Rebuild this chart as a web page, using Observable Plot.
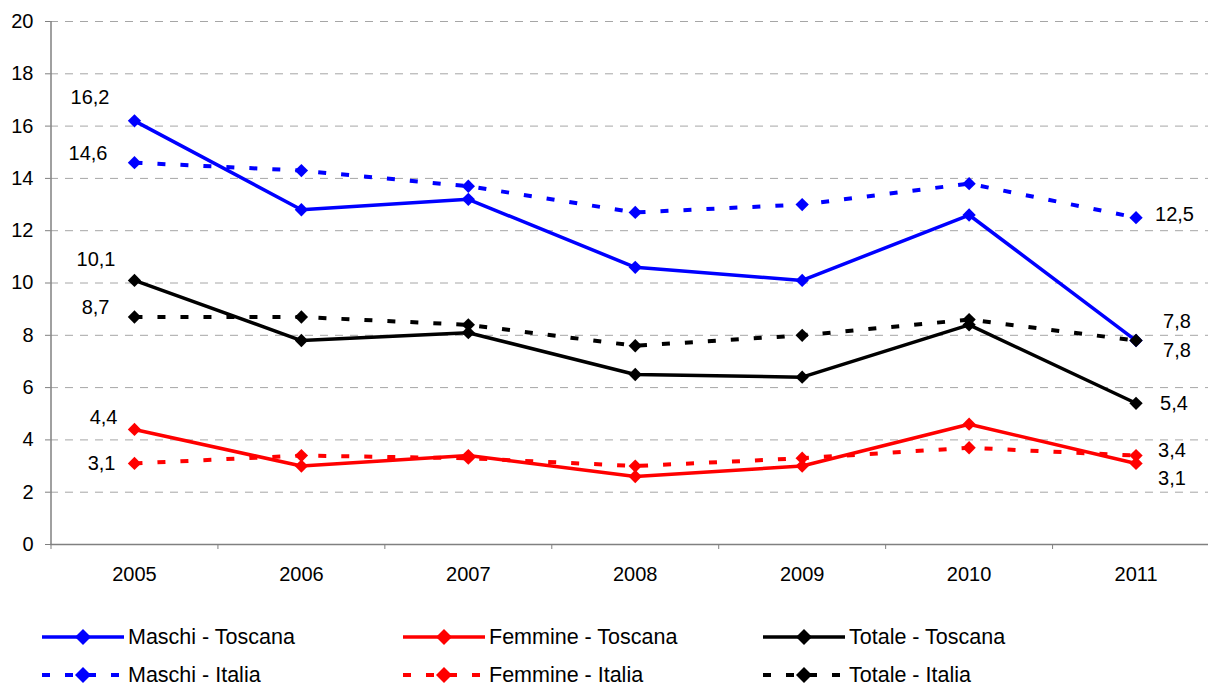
<!DOCTYPE html>
<html><head><meta charset="utf-8">
<script src="https://cdn.jsdelivr.net/npm/d3@7"></script>
<script src="https://cdn.jsdelivr.net/npm/@observablehq/plot@0.6"></script>
<style>
body{margin:0;background:#fff;font-family:"Liberation Sans",Arial,sans-serif;}
#wrap{position:relative;width:1208px;height:686px;overflow:hidden;background:#fff}
#legend{position:absolute;left:0;top:600px;width:1208px;height:86px}
.item{position:absolute;display:flex;align-items:center;font-size:21.5px;line-height:20px;height:20px;color:#000;white-space:nowrap}
.item svg{margin-right:4px}
</style></head><body><div id="wrap"><div id="chart"></div><div id="legend"></div></div>
<script>
const years = [2005, 2006, 2007, 2008, 2009, 2010, 2011];
const maschiToscana  = [16.2, 12.8, 13.2, 10.6, 10.1, 12.6, 7.8];
const femmineToscana = [4.4, 3.0, 3.4, 2.6, 3.0, 4.6, 3.1];
const totaleToscana  = [10.1, 7.8, 8.1, 6.5, 6.4, 8.4, 5.4];
const maschiItalia   = [14.6, 14.3, 13.7, 12.7, 13.0, 13.8, 12.5];
const femmineItalia  = [3.1, 3.4, 3.3, 3.0, 3.3, 3.7, 3.4];
const totaleItalia   = [8.7, 8.7, 8.4, 7.6, 8.0, 8.6, 7.8];
const yTicks = [0, 2, 4, 6, 8, 10, 12, 14, 16, 18, 20];
const seriesNames = ["Maschi - Toscana", "Femmine - Toscana", "Totale - Toscana", "Maschi - Italia", "Femmine - Italia", "Totale - Italia"];

const series = [
  {name: seriesNames[0], values: maschiToscana,  color: "#0000ff", dashed: false, left: {dx: -25, dy: -23}, right: {dx: 27, dy: 10}},
  {name: seriesNames[1], values: femmineToscana, color: "#ff0000", dashed: false, left: {dx: -17, dy: -12}, right: {dx: 22, dy: 15}},
  {name: seriesNames[2], values: totaleToscana,  color: "#000000", dashed: false, left: {dx: -19, dy: -21}, right: {dx: 24, dy: 0}},
  {name: seriesNames[3], values: maschiItalia,   color: "#0000ff", dashed: true,  left: {dx: -27, dy: -9},  right: {dx: 19, dy: -3}},
  {name: seriesNames[4], values: femmineItalia,  color: "#ff0000", dashed: true,  left: {dx: -19, dy: 0},   right: {dx: 22, dy: -5}},
  {name: seriesNames[5], values: totaleItalia,   color: "#000000", dashed: true,  left: {dx: -25, dy: -9},  right: {dx: 27, dy: -19}}
];
const DASH = "8,15";
const fmt = v => v.toFixed(1).replace(".", ",");

const bounds = years.map(y => y - 0.5);
const marks = [
  Plot.gridY(yTicks.filter(d => d > 0), {stroke: "#a6a6a6", strokeOpacity: 1, strokeDasharray: "8,7", strokeWidth: 1}),
  Plot.ruleY([0], {stroke: "#808080", strokeWidth: 1.5}),
  Plot.ruleX([bounds[0]], {y1: 0, y2: 20, stroke: "#808080", strokeWidth: 1.5}),
  Plot.axisY(yTicks, {tickSize: 5, tickPadding: 12, fontSize: 20, stroke: "#808080", fill: "#000", label: null, tickFormat: d => String(d)}),
  Plot.axisX(bounds, {tickSize: 5, stroke: "#808080", label: null, tickFormat: () => ""}),
  Plot.axisX(years, {tickSize: 0, tickPadding: 22, fontSize: 20, fill: "#000", label: null, tickFormat: d => String(d)})
];
for (const s of series) {
  const rows = years.map((y, i) => ({year: y, value: s.values[i]}));
  marks.push(Plot.line(rows, {x: "year", y: "value", stroke: s.color, strokeWidth: s.dashed ? 4 : 3.5,
    strokeDasharray: s.dashed ? DASH : null, strokeLinecap: "butt", strokeLinejoin: "round"}));
  marks.push(Plot.dot(rows, {x: "year", y: "value", symbol: "diamond2", r: 6, fill: s.color}));
}
for (const s of series) {
  const first = [{year: years[0], value: s.values[0]}];
  const last = [{year: years[years.length - 1], value: s.values[s.values.length - 1]}];
  marks.push(Plot.text(first, {x: "year", y: "value", text: d => fmt(d.value), textAnchor: "end", dx: s.left.dx, dy: s.left.dy, fontSize: 20, fill: "#000"}));
  marks.push(Plot.text(last, {x: "year", y: "value", text: d => fmt(d.value), textAnchor: "start", dx: s.right.dx, dy: s.right.dy, fontSize: 20, fill: "#000"}));
}

const chart = Plot.plot({
  width: 1208, height: 600,
  marginTop: 21, marginBottom: 56, marginLeft: 50, marginRight: 0,
  style: {fontFamily: '"Liberation Sans", Arial, sans-serif', background: "#fff", overflow: "visible"},
  x: {type: "linear", domain: [bounds[0], years[years.length - 1] + 0.5], range: [50.5, 1219], label: null},
  y: {domain: [0, 20], label: null},
  marks
});
document.getElementById("chart").appendChild(chart);

// legend
const legend = document.getElementById("legend");
const colLeft = [42, 403, 763];
const rowTop = [27, 65];
series.forEach((s, i) => {
  const col = i % 3, row = Math.floor(i / 3);
  const div = document.createElement("div");
  div.className = "item";
  div.style.left = colLeft[col] + "px";
  div.style.top = rowTop[row] + "px";
  const dash = s.dashed ? `stroke-dasharray="${DASH}"` : "";
  div.innerHTML = `<svg width="82" height="20"><line x1="0" x2="82" y1="10" y2="10" stroke="${s.color}" stroke-width="${s.dashed ? 4 : 3.5}" ${dash}/>` +
    `<path d="M41,2L49,10L41,18L33,10Z" fill="${s.color}"/></svg><span>${s.name}</span>`;
  legend.appendChild(div);
});
</script></body></html>
